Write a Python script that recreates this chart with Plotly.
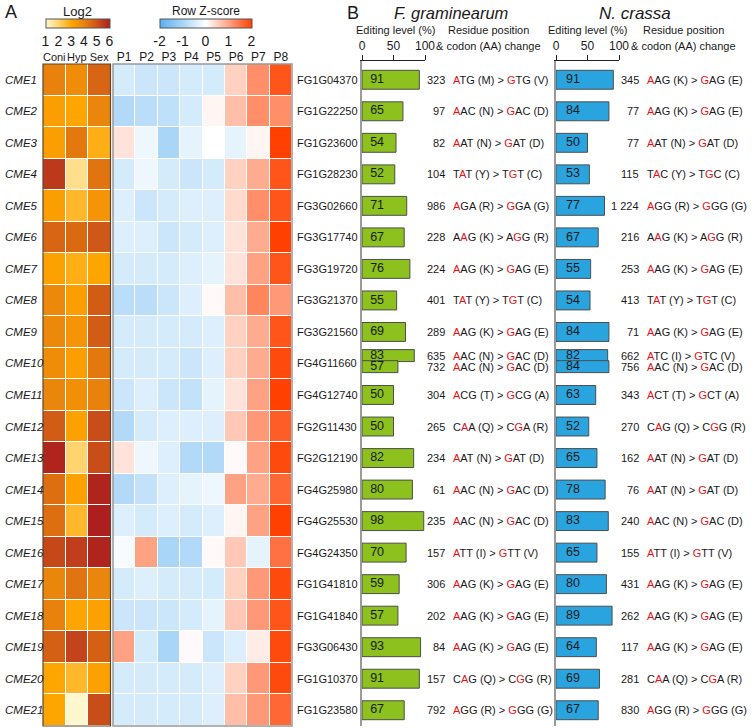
import plotly.graph_objects as go

W, H = 755, 728
FONT = "Liberation Sans, Arial, sans-serif"

def X(px):
    return px / W

def Y(py):
    return 1 - py / H

# ---------------- data ----------------
cme = [f"CME{i}" for i in range(1, 22)]
expr_cols = ["Coni", "Hyp", "Sex"]
expr = [
    [4.0, 3.7, 4.6], [3.2, 3.0, 3.9], [3.2, 4.2, 2.8], [5.5, 1.7, 4.3],
    [3.2, 2.6, 3.5], [4.6, 4.5, 4.9], [3.1, 2.8, 3.0], [3.8, 3.2, 4.8],
    [3.8, 3.5, 4.8], [3.7, 3.2, 4.2], [3.9, 3.6, 4.0], [4.8, 3.1, 5.1],
    [5.9, 2.0, 5.1], [4.4, 3.1, 5.9], [4.4, 2.6, 6.0], [5.2, 5.4, 5.9],
    [3.9, 4.3, 3.9], [4.0, 3.0, 3.1], [4.7, 5.3, 4.7], [3.0, 2.6, 3.1],
    [3.0, 1.0, 5.1],
]
z_cols = ["P1", "P2", "P3", "P4", "P5", "P6", "P7", "P8"]
zscore = [
    [-0.5, -0.6, -0.6, -0.5, -0.5, 0.5, 1.2, 1.8],
    [-0.9, -0.8, -0.75, -0.5, 0.1, 0.7, 1.2, 1.2],
    [0.3, -0.2, -1.0, -0.3, 0.0, -0.3, 0.1, 2.0],
    [-0.5, -0.2, -0.5, -0.6, -0.5, 0.5, 0.9, 1.8],
    [-0.4, -0.6, -0.5, -0.4, -0.4, 0.4, 1.2, 1.8],
    [-0.4, -0.4, -0.6, -0.5, -0.4, 0.3, 0.9, 2.0],
    [-0.5, -0.5, -0.5, -0.4, -0.3, 0.3, 1.0, 1.8],
    [-0.8, -0.8, -0.6, -0.4, 0.05, 0.7, 1.3, 1.1],
    [-0.5, -0.5, -0.5, -0.5, -0.4, 0.5, 0.9, 1.8],
    [-0.5, -0.5, -0.5, -0.6, -0.4, 0.5, 0.9, 1.9],
    [-0.6, -0.4, -0.6, -0.7, -0.3, 0.3, 1.0, 2.0],
    [-0.9, -0.5, -0.4, -0.4, -0.4, 0.6, 1.1, 1.7],
    [0.3, -0.2, -0.4, -0.9, -0.9, 0.05, 1.0, 1.9],
    [-0.9, -0.7, -0.4, -0.3, -0.2, 1.0, 0.9, 1.6],
    [-0.4, -0.5, -0.4, -0.5, -0.4, 0.1, 1.0, 2.0],
    [-0.1, 1.0, -1.0, -0.9, 0.05, 0.6, -0.3, 1.5],
    [-0.5, -0.4, -0.5, -0.5, -0.5, 0.5, 1.1, 1.9],
    [-0.6, -0.6, -0.6, -0.5, -0.3, 0.6, 1.1, 1.8],
    [1.0, -0.5, -1.0, 0.05, -0.6, -0.4, 0.2, 1.9],
    [-0.5, -0.5, -0.5, -0.5, -0.4, 0.5, 1.1, 1.9],
    [-0.5, -0.5, -0.5, -0.5, -0.4, 0.7, 1.1, 1.6],
]
genes = [
    "FG1G04370", "FG1G22250", "FG1G23600", "FG1G28230", "FG3G02660",
    "FG3G17740", "FG3G19720", "FG3G21370", "FG3G21560", "FG4G11660",
    "FG4G12740", "FG2G11430", "FG2G12190", "FG4G25980", "FG4G25530",
    "FG4G24350", "FG1G41810", "FG1G41840", "FG3G06430", "FG1G10370",
    "FG1G23580",
]
fg_level = [91, 65, 54, 52, 71, 67, 76, 55, 69, 83, 50, 50, 82, 80, 98, 70, 59, 57, 93, 91, 67]
nc_level = [91, 84, 50, 53, 77, 67, 55, 54, 84, 82, 63, 52, 65, 78, 83, 65, 80, 89, 64, 69, 67]
fg_pos = ["323", "97", "82", "104", "986", "228", "224", "401", "289", "635", "304", "265",
          "234", "61", "235", "157", "306", "202", "84", "157", "792"]
fg_codon = [("ATG", "M", "GTG", "V"), ("AAC", "N", "GAC", "D"), ("AAT", "N", "GAT", "D"),
            ("TAT", "Y", "TGT", "C"), ("AGA", "R", "GGA", "G"), ("AAG", "K", "AGG", "R"),
            ("AAG", "K", "GAG", "E"), ("TAT", "Y", "TGT", "C"), ("AAG", "K", "GAG", "E"),
            ("AAC", "N", "GAC", "D"), ("ACG", "T", "GCG", "A"), ("CAA", "Q", "CGA", "R"),
            ("AAT", "N", "GAT", "D"), ("AAC", "N", "GAC", "D"), ("AAC", "N", "GAC", "D"),
            ("ATT", "I", "GTT", "V"), ("AAG", "K", "GAG", "E"), ("AAG", "K", "GAG", "E"),
            ("AAG", "K", "GAG", "E"), ("CAG", "Q", "CGG", "R"), ("AGG", "R", "GGG", "G")]
nc_pos = ["345", "77", "77", "115", "1 224", "216", "253", "413", "71", "662", "343", "270",
          "162", "76", "240", "155", "431", "262", "117", "281", "830"]
nc_codon = [("AAG", "K", "GAG", "E"), ("AAG", "K", "GAG", "E"), ("AAT", "N", "GAT", "D"),
            ("TAC", "Y", "TGC", "C"), ("AGG", "R", "GGG", "G"), ("AAG", "K", "AGG", "R"),
            ("AAG", "K", "GAG", "E"), ("TAT", "Y", "TGT", "C"), ("AAG", "K", "GAG", "E"),
            ("ATC", "I", "GTC", "V"), ("ACT", "T", "GCT", "A"), ("CAG", "Q", "CGG", "R"),
            ("AAT", "N", "GAT", "D"), ("AAT", "N", "GAT", "D"), ("AAC", "N", "GAC", "D"),
            ("ATT", "I", "GTT", "V"), ("AAG", "K", "GAG", "E"), ("AAG", "K", "GAG", "E"),
            ("AAG", "K", "GAG", "E"), ("CAA", "Q", "CGA", "R"), ("AGG", "R", "GGG", "G")]
# second editing site in CME10 (row index 9)
extra_row = 9
fg_extra = (57, "732", ("AAC", "N", "GAC", "D"))
nc_extra = (84, "756", ("AAC", "N", "GAC", "D"))

# ---------------- figure ----------------
n = len(cme)
rows = list(range(n))
ydom = [Y(726), Y(64)]
TXT = "#1a1a1a"
RED = "#e8101a"

fig = go.Figure()

expr_scale = [[0.0, "#FFF8CE"], [0.2, "#FFD46E"], [0.4, "#FFA500"],
              [0.6, "#E8820C"], [0.8, "#CC5218"], [1.0, "#AD1F1F"]]
z_scale = [[0.0, "#5AAFEF"], [0.25, "#A9D6F7"], [0.5, "#FFFFFF"],
           [0.75, "#FFA283"], [1.0, "#FF4000"]]

fig.add_trace(go.Heatmap(
    z=expr, x=expr_cols, y=rows, zmin=1, zmax=6, colorscale=expr_scale,
    xgap=1, ygap=1, xaxis="x", yaxis="y", hoverinfo="skip",
    colorbar=dict(orientation="h", x=X(77.5), xanchor="center", y=Y(18.5), yanchor="top",
                  len=64, lenmode="pixels", thickness=9, thicknessmode="pixels",
                  outlinewidth=1, outlinecolor="#555", tickvals=[1, 2, 3, 4, 5, 6],
                  ticks="", tickfont=dict(size=14, color=TXT, family=FONT), xpad=0, ypad=0),
))
fig.add_trace(go.Heatmap(
    z=zscore, x=z_cols, y=rows, zmin=-2, zmax=2, colorscale=z_scale,
    xgap=1, ygap=1, xaxis="x2", yaxis="y2", hoverinfo="skip",
    colorbar=dict(orientation="h", x=X(205.5), xanchor="center", y=Y(18.5), yanchor="top",
                  len=92, lenmode="pixels", thickness=9, thicknessmode="pixels",
                  outlinewidth=1, outlinecolor="#555", tickvals=[-2, -1, 0, 1, 2],
                  ticktext=["-2", "-1", "0", "1", "2"],
                  ticks="", tickfont=dict(size=14, color=TXT, family=FONT), xpad=0, ypad=0),
))

def bar_data(levels, extra):
    ys, xs, ws = [], [], []
    for i, v in enumerate(levels):
        if i == extra_row:
            ys += [i - 0.25, i + 0.1]
            xs += [v, extra[0]]
            ws += [0.38, 0.38]
        else:
            ys.append(i)
            xs.append(v)
            ws.append(0.6)
    return xs, ys, ws

for levels, extra, xa, ya, col, txtx in [
    (fg_level, fg_extra, "x3", "y3", "#8CC11E", 24),
    (nc_level, nc_extra, "x4", "y4", "#2AA4DE", 27),
]:
    xs, ys, ws = bar_data(levels, extra)
    fig.add_trace(go.Bar(x=xs, y=ys, width=ws, orientation="h", xaxis=xa, yaxis=ya,
                         marker=dict(color=col, line=dict(color="#4d4d4d", width=1)),
                         hoverinfo="skip"))
    fig.add_trace(go.Scatter(x=[txtx] * len(xs), y=ys, mode="text",
                             text=[str(v) for v in xs], textposition="middle center",
                             textfont=dict(size=12.5, color=TXT, family=FONT),
                             xaxis=xa, yaxis=ya, hoverinfo="skip", cliponaxis=False))

bar_yrange = [20.5, -0.5 - 3 / 31.52]
ax_common = dict(showgrid=False, zeroline=False, automargin=False)
fig.update_layout(
    width=W, height=H, margin=dict(l=0, r=0, t=0, b=0, pad=0, autoexpand=False),
    paper_bgcolor="white", plot_bgcolor="white", showlegend=False,
    font=dict(family=FONT, color=TXT, size=12),
    xaxis=dict(domain=[X(43), X(110.5)], side="top", ticks="", anchor="y", tickangle=0,
               tickfont=dict(size=11), **ax_common),
    yaxis=dict(domain=ydom, range=[20.5, -0.5], showticklabels=False, ticks="",
               anchor="x", **ax_common),
    xaxis2=dict(domain=[X(113), X(292)], side="top", ticks="", anchor="y2", tickangle=0,
                tickfont=dict(size=12), **ax_common),
    yaxis2=dict(domain=ydom, range=[20.5, -0.5], showticklabels=False, ticks="",
                anchor="x2", **ax_common),
    xaxis3=dict(domain=[X(362), X(425)], range=[0, 100], side="top", anchor="y3",
                tickvals=[0, 50, 100], ticks="outside", ticklen=5, tickcolor="#222",
                showline=True, linecolor="#222", linewidth=1,
                tickfont=dict(size=12), **ax_common),
    yaxis3=dict(domain=[Y(726), Y(61)], range=bar_yrange, showticklabels=False, ticks="",
                showline=True, linecolor="#9a9a9a", linewidth=1.5, anchor="x3", **ax_common),
    xaxis4=dict(domain=[X(556), X(619)], range=[0, 100], side="top", anchor="y4",
                tickvals=[0, 50, 100], ticks="outside", ticklen=5, tickcolor="#222",
                showline=True, linecolor="#222", linewidth=1,
                tickfont=dict(size=12), **ax_common),
    yaxis4=dict(domain=[Y(726), Y(61)], range=bar_yrange, showticklabels=False, ticks="",
                showline=True, linecolor="#9a9a9a", linewidth=1.5, anchor="x4", **ax_common),
)

ann = []
def txt(x, y, s, size=12, xanchor="center", yref="paper", **kw):
    ann.append(dict(x=x, y=y, xref="paper", yref=yref, text=s, showarrow=False,
                    xanchor=xanchor, yanchor="middle",
                    font=dict(size=size, color=TXT, family=FONT), **kw))

# row labels & gene ids
for i in rows:
    txt(X(3), i, f"<i>{cme[i]}</i>", 11.5, "left", yref="y")
    txt(X(295), i, genes[i], 11, "left", yref="y")

def codon_html(c):
    a, aa, b, bb = c
    k = [j for j in range(3) if a[j] != b[j]][0]
    ca = a[:k] + f"<span style='color:{RED}'>{a[k]}</span>" + a[k + 1:]
    cb = b[:k] + f"<span style='color:{RED}'>{b[k]}</span>" + b[k + 1:]
    return f"{ca} ({aa}) &gt; {cb} ({bb})"

for pos, cod, extra, yref, xnum, xcod in [
    (fg_pos, fg_codon, fg_extra, "y3", 447, 451),
    (nc_pos, nc_codon, nc_extra, "y4", 641, 645),
]:
    for i in rows:
        items = [(i, pos[i], cod[i])]
        if i == extra_row:
            items = [(i - 0.25, pos[i], cod[i]), (i + 0.1, extra[1], extra[2])]
        for yy, p, c in items:
            txt(X(xnum), yy, p, 11, "right", yref=yref)
            txt(X(xcod), yy, codon_html(c), 11, "left", yref=yref)

# headers
txt(X(3), Y(12), "A", 18, "left")
txt(X(345), Y(13), "B", 18, "left")
txt(X(451), Y(13), "<i>F. graminearum</i>", 16.5)
txt(X(635), Y(13), "<i>N. crassa</i>", 17)
txt(X(77.5), Y(11.5), "Log2", 13)
txt(X(205.5), Y(11.5), "Row Z-score", 12)
for cx in (396, 587):
    txt(X(cx), Y(30), "Editing level (%)", 11)
for cx in (488, 683):
    txt(X(cx), Y(30), "Residue position", 11)
    txt(X(cx), Y(46), "&amp; codon (AA) change", 11)

fig.update_layout(annotations=ann)

fig.add_shape(type="rect", xref="paper", yref="paper", x0=X(43), x1=X(110.5), y0=Y(726), y1=Y(64),
              line=dict(color="#5a4632", width=1.2))
fig.add_shape(type="rect", xref="paper", yref="paper", x0=X(113), x1=X(292), y0=Y(726), y1=Y(64),
              line=dict(color="#999999", width=1.5))

fig.write_html("out.html", config={"displayModeBar": False},
               post_script="document.body.style.margin='0';"
                           "document.documentElement.style.overflow='hidden';")
